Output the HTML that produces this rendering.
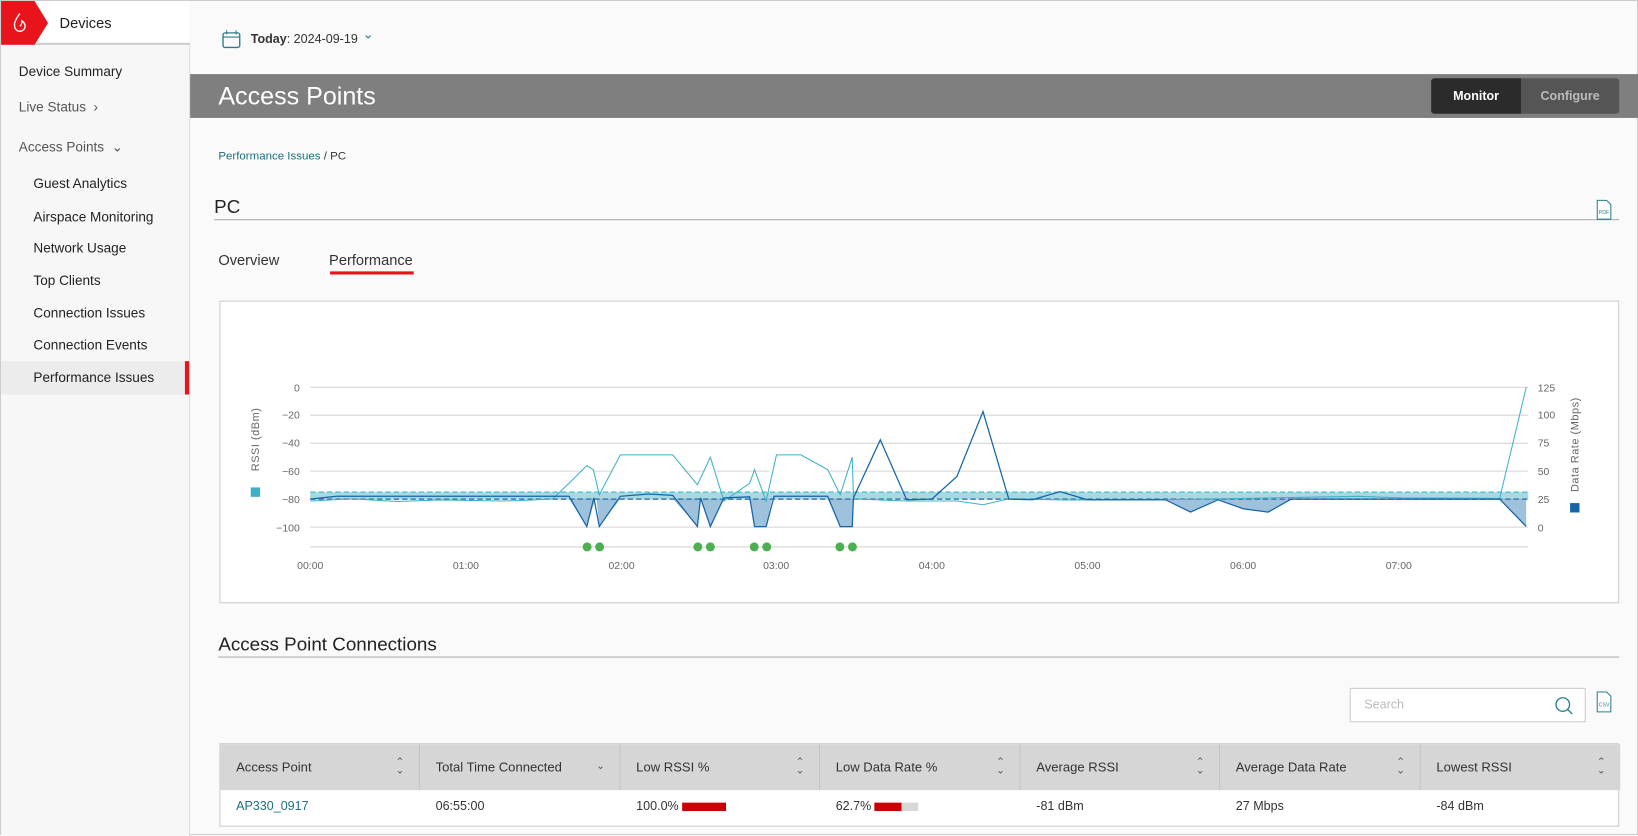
<!DOCTYPE html>
<html><head><meta charset="utf-8"><style>
*{margin:0;padding:0;box-sizing:border-box}
html,body{width:1638px;height:835px;overflow:hidden;background:#fafafa;font-family:"Liberation Sans",sans-serif;color:#333}
#w{position:absolute;left:0;top:0;width:1568px;height:800px;transform-origin:0 0;transform:scale(1.04464,1.04375);background:#fafafa;border:1px solid #ccc}
.a{position:absolute;white-space:nowrap}
.side{position:absolute;left:0;top:0;width:181px;height:800px;background:#f7f7f7;border-right:1px solid #ddd}
.m{position:absolute;font-size:13px;color:#222}
th,td{font-weight:normal;text-align:left}
.col{position:absolute;top:0;height:44px;border-right:1px solid #c4c4c4;font-size:12.5px;line-height:44px;padding-left:15px;color:#333}
.sort{position:absolute;right:14px;top:0;font-size:10px;color:#555;line-height:8px;padding-top:14px;text-align:center}
</style></head><body><div id="w">
<div class="side">
 <div class="a" style="left:0;top:0;width:181px;height:42px;border-bottom:2px solid #ccc;background:#fff"></div>
 <svg class="a" style="left:0;top:0" width="46" height="42"><polygon points="0,0 32,0 45,21 32,42 0,42" fill="#e8141b"/><path d="M18 12 q-6 8 -5 12 a5 5 0 0 0 10 0 q0 -3 -3 -5 q0 4 -2 5" fill="none" stroke="#fff" stroke-width="1.3"/></svg>
 <div class="m" style="left:56px;top:13px;font-size:14px">Devices</div>
 <div class="m" style="left:17px;top:60px">Device Summary</div>
 <div class="m" style="left:17px;top:94px;color:#555">Live Status &nbsp;›</div>
 <div class="m" style="left:17px;top:132px;color:#555">Access Points &nbsp;⌄</div>
 <div class="m" style="left:31px;top:167px">Guest Analytics</div>
 <div class="m" style="left:31px;top:199px">Airspace Monitoring</div>
 <div class="m" style="left:31px;top:229px">Network Usage</div>
 <div class="m" style="left:31px;top:260px">Top Clients</div>
 <div class="m" style="left:31px;top:291px">Connection Issues</div>
 <div class="m" style="left:31px;top:322px">Connection Events</div>
 <div class="a" style="left:0;top:345px;width:180px;height:32px;background:#ececec;border-right:4px solid #e8141b"></div>
 <div class="m" style="left:31px;top:353px">Performance Issues</div>
</div>
<svg class="a" style="left:211px;top:27px" width="20" height="20"><rect x="1.5" y="3.5" width="16" height="14" rx="2" fill="none" stroke="#2a7d8c" stroke-width="1.3"/><line x1="1.5" y1="7.5" x2="17.5" y2="7.5" stroke="#2a7d8c"/><line x1="5" y1="1" x2="5" y2="5" stroke="#2a7d8c"/><line x1="14" y1="1" x2="14" y2="5" stroke="#2a7d8c"/></svg>
<div class="a" style="left:239px;top:29px;font-size:12px"><b>Today</b>: 2024-09-19</div>
<div class="a" style="left:346px;top:24px;font-size:13px;color:#2a7d8c">⌄</div>
<div class="a" style="left:181px;top:70px;width:1387px;height:42px;background:#7f7f7f"></div>
<div class="a" style="left:208px;top:78px;font-size:24px;color:#fff">Access Points</div>
<div class="a" style="left:1369px;top:74px;width:86px;height:34px;background:#2b2b2b;border-radius:3px 0 0 3px;color:#fff;font-size:12px;font-weight:bold;line-height:34px;text-align:center">Monitor</div>
<div class="a" style="left:1455px;top:74px;width:94px;height:34px;background:#555;border-radius:0 3px 3px 0;color:#bbb;font-size:12px;font-weight:bold;line-height:34px;text-align:center">Configure</div>
<div class="a" style="left:208px;top:143px;font-size:11px;color:#333"><span style="color:#1f6f7e">Performance Issues</span> / PC</div>
<div class="a" style="left:204px;top:187px;font-size:18px;color:#222">PC</div>
<div class="a" style="left:204px;top:209px;width:1345px;height:1px;background:#aaa"></div>
<svg class="a" style="left:1526px;top:190px" width="17" height="20"><path d="M2 1h9l4 4v14H2z" fill="#fff" stroke="#2a7d8c"/><text x="3.5" y="14" font-size="5" fill="#2a7d8c" font-family="Liberation Sans">PDF</text></svg>
<div class="a" style="left:208px;top:240px;font-size:14px;color:#333">Overview</div>
<div class="a" style="left:314px;top:240px;font-size:14px;color:#333">Performance</div>
<div class="a" style="left:315px;top:259px;width:80px;height:3px;background:#e8141b"></div>
<div class="a" style="left:209px;top:287px;width:1340px;height:290px;background:#fff;border:1px solid #ccc"></div>
<svg class="a" style="left:0;top:0" width="1568" height="600" font-family="Liberation Sans" font-size="10" fill="#666">
<g stroke="#d4d4d4" stroke-width="1">
<line x1="296" y1="370" x2="1462" y2="370"/><line x1="296" y1="396.8" x2="1462" y2="396.8"/><line x1="296" y1="423.6" x2="1462" y2="423.6"/><line x1="296" y1="450.4" x2="1462" y2="450.4"/><line x1="296" y1="477.2" x2="1462" y2="477.2"/><line x1="296" y1="504" x2="1462" y2="504"/><line x1="296" y1="523" x2="1462" y2="523"/></g>
<g text-anchor="end"><text x="286" y="374">0</text><text x="286" y="400">−20</text><text x="286" y="427">−40</text><text x="286" y="454">−60</text><text x="286" y="481">−80</text><text x="286" y="508">−100</text></g>
<g><text x="1471" y="374">125</text><text x="1471" y="400">100</text><text x="1471" y="427">75</text><text x="1471" y="454">50</text><text x="1471" y="481">25</text><text x="1471" y="508">0</text></g>
<g text-anchor="middle"><text x="296" y="544">00:00</text><text x="445" y="544">01:00</text><text x="594" y="544">02:00</text><text x="742" y="544">03:00</text><text x="891" y="544">04:00</text><text x="1040" y="544">05:00</text><text x="1189" y="544">06:00</text><text x="1338" y="544">07:00</text></g>
<text transform="translate(247,420) rotate(-90)" text-anchor="middle" font-size="10.5" letter-spacing="0.5">RSSI (dBm)</text>
<rect x="239" y="466" width="9" height="9" fill="#3fb1c6"/>
<text transform="translate(1510,425) rotate(-90)" text-anchor="middle" font-size="10.5" letter-spacing="0.5">Data Rate (Mbps)</text>
<rect x="1502" y="481" width="9" height="9" fill="#1565a8"/>
<rect x="296" y="470.5" width="1166" height="6.7" fill="#a8d8e2"/>
<polygon fill="#fff" points="544,470.5 561,445 567,449 573,470.5 593,434.8 643,434.8 666.6,470.5 679,437 692,470.5 716.6,462 721,449 727,470.5 742,434.8 766,434.8 791,449 803,470.5 815,437 818,470.5"/>
<g fill="#4f8fc0" fill-opacity="0.55" stroke="none">
<polygon points="543.7,477 560.7,503 569,477"/><polygon points="570,477 572.7,503 592.8,477"/>
<polygon points="643,477 666.6,503 669,477"/><polygon points="670,477 679,503 692,477"/>
<polygon points="716.6,477 721.3,503.5 732.4,503.5 738,477"/>
<polygon points="791.3,477 803.3,503.5 814.8,503.5 816,477"/>
<polygon points="1114.6,477 1138.7,489.6 1165,477"/><polygon points="1165,477 1189,486.4 1213,489.6 1235,477"/>
<polygon points="1434.6,477 1460,503.4 1460,477"/>
</g>
<line x1="296" y1="470.5" x2="1462" y2="470.5" stroke="#5ec3d4" stroke-width="1.5" stroke-dasharray="5,3"/>
<line x1="296" y1="477.2" x2="1462" y2="477.2" stroke="#3f78ad" stroke-width="1.5" stroke-dasharray="5,3"/>
<polyline fill="none" stroke="#3fb1c6" stroke-width="1" points="296,479 336,477 380,479.5 420,478 480,479 500,478.5 528,477 543.7,462 560.7,445 567,449 572.7,473 592.8,434.8 643,434.8 666.6,463.5 679,437 692,479 716.6,462 721.3,449 732.4,479 742.3,434.8 765.7,434.8 791.3,449 803.3,473 814.8,437 816,477 867,479 915,479 940,482.6 964.7,477 1020,478 1115,477.8 1300,474.5 1340,476 1434.6,476.5 1460,370"/>
<polyline fill="none" stroke="#1565a8" stroke-width="1.2" points="296,477.2 321,474.5 543.7,474.5 560.7,503.5 567.5,476 572.7,503.5 592.8,474.5 620,472.3 643,473.6 666.6,503.5 669.6,476 679,503.5 692,476 716.6,475 721.3,503.5 732.4,503.5 740,474.5 791.3,474.5 803.3,503.5 814.8,503.5 816,476 841.7,420.4 866.9,477.8 891,477.2 915,455.5 940,393.3 964.7,477.2 987.4,477.8 1013.7,470 1040,477.8 1114.6,477.8 1138.7,489.6 1165,477.8 1189,486.4 1213,489.6 1235,477.2 1434.6,477.2 1460,503.4"/>
<g fill="#4caf50"><circle cx="561" cy="523" r="4.3"/><circle cx="573" cy="523" r="4.3"/><circle cx="667" cy="523" r="4.3"/><circle cx="679" cy="523" r="4.3"/><circle cx="721" cy="523" r="4.3"/><circle cx="733" cy="523" r="4.3"/><circle cx="803" cy="523" r="4.3"/><circle cx="815" cy="523" r="4.3"/></g>
</svg>
<div class="a" style="left:208px;top:606px;font-size:18px;color:#222">Access Point Connections</div>
<div class="a" style="left:208px;top:628px;width:1341px;height:1px;background:#aaa"></div>
<div class="a" style="left:1291px;top:658px;width:226px;height:33px;background:#fff;border:1px solid #ccc"></div>
<div class="a" style="left:1305px;top:667px;font-size:12px;color:#bbb">Search</div>
<svg class="a" style="left:1486px;top:665px" width="20" height="20"><circle cx="9" cy="9" r="6.5" fill="none" stroke="#2a7d8c" stroke-width="1.3"/><line x1="13.5" y1="13.5" x2="18" y2="18" stroke="#2a7d8c" stroke-width="1.3"/></svg>
<svg class="a" style="left:1526px;top:661px" width="17" height="22"><path d="M2 1h9l4 4v15H2z" fill="#fff" stroke="#2a7d8c"/><text x="3.5" y="15" font-size="5" fill="#2a7d8c" font-family="Liberation Sans">CSV</text></svg>
<div class="a" style="left:209px;top:711px;width:1340px;height:80px;background:#fff;border:1px solid #ccc">
 <div class="a" style="left:0;top:0;width:1340px;height:44px;background:#d6d6d6"></div>
 <div class="col" style="left:0;width:191px">Access Point<div class="sort">⌃<br>⌄</div></div>
 <div class="col" style="left:191px;width:192px">Total Time Connected<div class="sort" style="padding-top:18px">⌄</div></div>
 <div class="col" style="left:383px;width:191px">Low RSSI %<div class="sort">⌃<br>⌄</div></div>
 <div class="col" style="left:574px;width:192px">Low Data Rate %<div class="sort">⌃<br>⌄</div></div>
 <div class="col" style="left:766px;width:191px">Average RSSI<div class="sort">⌃<br>⌄</div></div>
 <div class="col" style="left:957px;width:192px">Average Data Rate<div class="sort">⌃<br>⌄</div></div>
 <div class="col" style="left:1149px;width:191px;border-right:none">Lowest RSSI<div class="sort">⌃<br>⌄</div></div>
 <div class="a" style="left:15px;top:52px;font-size:12px;color:#1f6f7e">AP330_0917</div>
 <div class="a" style="left:206px;top:52px;font-size:12px">06:55:00</div>
 <div class="a" style="left:398px;top:52px;font-size:12px">100.0% <span style="display:inline-block;width:42px;height:8px;background:#cc0000;vertical-align:middle"></span></div>
 <div class="a" style="left:589px;top:52px;font-size:12px">62.7% <span style="display:inline-block;width:26px;height:8px;background:#cc0000;vertical-align:middle"></span><span style="display:inline-block;width:16px;height:8px;background:#d8d8d8;vertical-align:middle"></span></div>
 <div class="a" style="left:781px;top:52px;font-size:12px">-81 dBm</div>
 <div class="a" style="left:972px;top:52px;font-size:12px">27 Mbps</div>
 <div class="a" style="left:1164px;top:52px;font-size:12px">-84 dBm</div>
</div>
</div></body></html>
